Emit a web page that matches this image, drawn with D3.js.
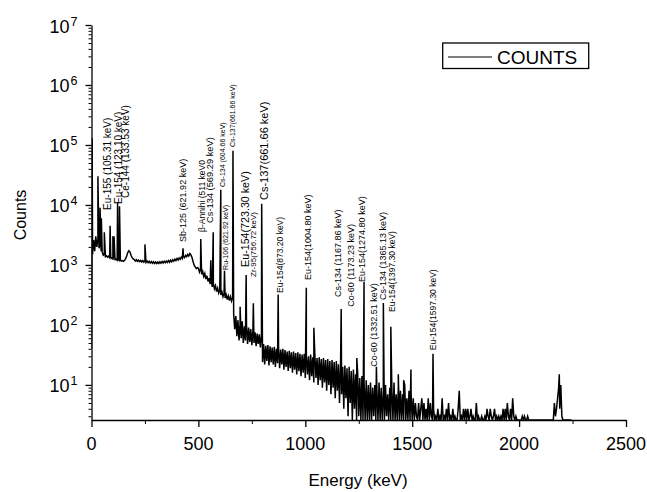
<!DOCTYPE html>
<html>
<head>
<meta charset="utf-8">
<script src="https://cdn.jsdelivr.net/npm/d3@7"></script>
<style>
  body { margin: 0; background: #fff; }
  svg text { font-family: "Liberation Sans", Arial, sans-serif; fill: #000; }
</style>
</head>
<body>
<svg id="viz"></svg>
<script>

// the data: counts per 5 keV
var step = 5;

// 0 - 495 keV
var countsA = [
	40, 1500, 2600, 1700, 3000, 2000, 2700, 1900, 2200, 1700,
	1650, 1450, 1500, 1380, 1420, 1350, 1400, 1320, 1360, 1290,
	1260, 1280, 1230, 1240, 1200, 1230, 1190, 1200, 1160, 1180,
	1150, 1200, 1280, 1420, 1620, 1720, 1640, 1450, 1320, 1260,
	1230, 1160, 1220, 1150, 1200, 1140, 1190, 1120, 1180, 1110,
	1170, 1100, 1160, 1090, 1150, 1080, 1140, 1070, 1130, 1060,
	1120, 1060, 1120, 1060, 1130, 1070, 1140, 1080, 1150, 1090,
	1160, 1100, 1180, 1110, 1200, 1130, 1220, 1160, 1250, 1180,
	1280, 1210, 1310, 1240, 1350, 1280, 1390, 1320, 1440, 1370,
	1490, 1410, 1550, 1470, 1330, 1140, 990, 930, 870, 900
];

// 500 - 995 keV
var countsB = [
	880, 760, 850, 700, 780, 640, 720, 580, 660, 530,
	600, 480, 540, 430, 490, 400, 450, 360, 410, 340,
	380, 315, 355, 295, 335, 280, 320, 265, 305, 255,
	295, 250, 285, 150, 85, 140, 65, 120, 55, 105,
	60, 115, 50, 95, 55, 100, 48, 90, 52, 85,
	46, 80, 50, 75, 44, 72, 48, 70, 42, 66,
	24, 48, 22, 45, 25, 46, 21, 44, 24, 42,
	22, 43, 20, 40, 23, 42, 19, 39, 22, 40,
	18, 38, 20, 36, 17, 37, 19, 35, 16, 36,
	18, 34, 15, 35, 17, 33, 14, 32, 16, 33
];

// 1000 - 1495 keV
var countsC = [
	13, 31, 15, 30, 12, 32, 14, 29, 11, 30,
	13, 28, 10, 29, 12, 27, 9, 28, 11, 26,
	8, 27, 10, 25, 7, 26, 9, 24, 6, 25,
	8, 22, 5, 23, 7, 20, 4, 21, 6, 19,
	3, 20, 5, 17, 0, 18, 4, 15, 0, 16,
	3, 13, 0, 14, 0, 11, 0, 12, 0, 10,
	0, 11, 0, 9, 3, 10, 0, 8, 0, 11,
	0, 9, 0, 8, 0, 10, 3, 7, 0, 9,
	0, 8, 0, 11, 0, 7, 0, 9, 0, 8,
	0, 7, 0, 10, 0, 6, 0, 8, 0, 7
];

// 1500 - 2245 keV
var countsD = [
	0, 6, 0, 5, 3, 0, 5, 0, 4, 6,
	0, 5, 0, 4, 0, 6, 0, 5, 3, 0,
	4, 0, 3, 0, 4, 0, 3, 0, 6, 0,
	3, 0, 4, 0, 5, 0, 3, 0, 4, 0,
	3, 0, 0, 4, 8, 0, 3, 0, 4, 0,
	4, 0, 4, 0, 3, 4, 0, 3, 0, 0,
	5, 0, 3, 0, 0, 3, 0, 0, 3, 0,
	4, 3, 0, 4, 3, 0, 3, 4, 0, 3,
	0, 3, 0, 3, 0, 4, 0, 4, 0, 5,
	3, 0, 4, 0, 6, 3, 0, 3, 0, 0,
	0, 0, 0, 3, 0, 3, 0, 0, 3, 0,
	0, 0, 0, 0, 0, 0, 0, 0, 0, 0,
	0, 0, 0, 0, 0, 0, 0, 0, 0, 0,
	0, 0, 0, 5, 3, 4, 6, 9, 4, 10,
	3, 0, 0, 0, 0, 0, 0, 0, 0, 0
];

// the photopeaks on top of the continuum
var peakEnergy = [3, 30, 40, 46, 60, 87, 100, 105.3, 122, 131, 250, 428,
	511, 558, 569.3, 604.7, 622, 661.7, 695, 723.3, 757, 796,
	873.2, 1004.8, 1040, 1167.9, 1241, 1274.8, 1332.5, 1365.1, 1400,
	1435, 1460, 1494, 1597.3, 2188];
var peakCounts = [130000, 30000, 9000, 6000, 3500, 4500, 3000, 3000, 11000, 9500, 2200, 1900,
	2700, 1200, 3500, 18000, 800, 80000, 200, 680, 230, 10500,
	320, 415, 90, 185, 28, 520, 20, 233, 93,
	15, 12, 18, 33, 15];

// peak annotations
var labelText = [
	"Eu-155 (105.31 keV)", "Eu-154 (123.10 keV)", "Ce-144 (133.53 keV)",
	"Sb-125 (621.92 keV)", "\u03b2-Annihi (511 keV0", "Cs-134 (569.29 keV)",
	"Cs-134 (604.66 keV)", "Ru-106 (621.92 keV)", "Cs-137(661.66 keV)",
	"Eu-154(723.30 keV)", "Zr-95(756.72 keV)", "Cs-137(661.66 keV)",
	"Eu-154(873.20 keV)", "Eu-154(1004.80 keV)", "Cs-134 (1167.86 keV)",
	"Co-60 (1173.23 keV)", "Eu-154(1274.80 keV)", "Co-60 (1332.51 keV)",
	"Cs-134 (1365.13 keV)", "Eu-154(1397.30 keV)", "Eu-154(1597.30 keV)"
];
// where each annotation starts: [keV, counts, font size]
var labelPlace = [
	[76, 8260, 10], [128, 10400, 10], [161, 13100, 10],
	[429, 2420, 9], [515, 3550, 8.5], [554, 5010, 9.3],
	[615, 19950, 7], [628, 826, 7], [662, 92600, 7],
	[718, 926, 10.7], [756, 631, 8], [807, 12100, 11],
	[882, 341, 8.5], [1013, 562, 9], [1153, 293, 9],
	[1214, 200, 9], [1265, 521, 9], [1322, 20, 9],
	[1364, 261, 9], [1406, 165, 8.5], [1597, 38, 8.5]
];

var xTicks = [0, 500, 1000, 1500, 2000, 2500];
var xMinor = [250, 750, 1250, 1750, 2250];
var yTicks = [10, 100, 1000, 10000, 100000, 1000000, 10000000];


// set up the svg
var w = 647;
var h = 492;
var svg = d3.select("#viz").attr("width", w).attr("height", h);

var padL = 91.5, padR = 626, padT = 25, padB = 420;

var x = d3.scaleLinear().domain([0, 2500]).range([padL, padR]);
var y = d3.scaleLog().domain([2.6, 1e7]).range([padB, padT]).clamp(true);

// channel list + peaks, in energy order
var counts = countsA.concat(countsB, countsC, countsD);
var points = counts.map(function(c, i) { return {e: i * step, c: c}; });
peakEnergy.forEach(function(e, i) { points.push({e: e, c: peakCounts[i]}); });
points.sort(function(a, b) { return a.e - b.e; });

svg.append("clipPath").attr("id", "plot")
	.append("rect").attr("x", padL).attr("y", padT - 1)
	.attr("width", padR - padL).attr("height", padB - padT + 1);

var line = d3.line()
	.x(function(d) { return x(d.e); })
	.y(function(d) { return y(Math.max(d.c, 2.6)); });

svg.append("path")
	.datum(points)
	.attr("clip-path", "url(#plot)")
	.attr("d", line)
	.attr("fill", "none")
	.attr("stroke", "#000")
	.attr("stroke-width", 1.5)
	.attr("stroke-linejoin", "miter");

// x axis
var xAxis = svg.append("g").attr("transform", "translate(0," + padB + ")");
xAxis.call(d3.axisBottom(x).tickValues(xTicks).tickSize(7).tickSizeOuter(0).tickFormat(""));
svg.append("g").attr("class", "minor").attr("transform", "translate(0," + padB + ")")
	.call(d3.axisBottom(x).tickValues(xMinor).tickSize(4).tickSizeOuter(0).tickFormat(""))
	.select(".domain").remove();
xAxis.selectAll("line, path").attr("stroke", "#000").attr("stroke-width", 1.3);

svg.selectAll(".xlab")
	.data(xTicks)
	.enter().append("text")
	.attr("class", "xlab")
	.attr("x", function(d) { return x(d); })
	.attr("y", padB + 30)
	.attr("text-anchor", "middle")
	.attr("font-size", 18)
	.text(function(d) { return d; });

svg.append("text")
	.attr("x", 358).attr("y", 486)
	.attr("text-anchor", "middle")
	.attr("font-size", 17)
	.text("Energy (keV)");

// y axis
var yMinor = y.ticks().filter(function(v) { return yTicks.indexOf(v) < 0; });
var yAxis = svg.append("g").attr("transform", "translate(" + padL + ",0)");
yAxis.call(d3.axisLeft(y).tickValues(yTicks).tickSize(6).tickSizeOuter(0).tickFormat(""));
svg.append("g").attr("class", "minor").attr("transform", "translate(" + padL + ",0)")
	.call(d3.axisLeft(y).tickValues(yMinor).tickSize(3).tickSizeOuter(0).tickFormat(""))
	.select(".domain").remove();
yAxis.selectAll("line, path").attr("stroke", "#000").attr("stroke-width", 1.3);
svg.selectAll(".minor line").attr("stroke", "#000").attr("stroke-width", 1);

var ylab = svg.selectAll(".ylab")
	.data(yTicks)
	.enter().append("text")
	.attr("class", "ylab")
	.attr("x", 77.5)
	.attr("y", function(d) { return y(d) + 7.5; })
	.attr("text-anchor", "end")
	.attr("font-size", 18);
ylab.append("tspan").text("10");
ylab.append("tspan")
	.attr("dy", -7)
	.attr("dx", 1)
	.attr("font-size", 12.5)
	.text(function(d) { return Math.round(Math.log10(d)); });

svg.append("text")
	.attr("transform", "translate(26,215) rotate(-90)")
	.attr("text-anchor", "middle")
	.attr("font-size", 16)
	.text("Counts");

// peak names
svg.selectAll(".peak")
	.data(labelText)
	.enter().append("text")
	.attr("class", "peak")
	.attr("transform", function(d, i) {
		var p = labelPlace[i];
		return "translate(" + x(p[0]) + "," + y(p[1]) + ") rotate(-90)";
	})
	.attr("dy", "0.35em")
	.attr("font-size", function(d, i) { return labelPlace[i][2]; })
	.text(function(d) { return d; });

// legend
var lg = svg.append("g");
lg.append("rect").attr("x", 442.7).attr("y", 43).attr("width", 146).attr("height", 25.5)
	.attr("fill", "#fff").attr("stroke", "#000").attr("stroke-width", 1.3);
lg.append("line").attr("x1", 448).attr("x2", 492).attr("y1", 57).attr("y2", 57)
	.attr("stroke", "#000").attr("stroke-width", 1.2);
lg.append("text").attr("x", 497).attr("y", 63.5).attr("font-size", 19).text("COUNTS");

</script>
</body>
</html>
